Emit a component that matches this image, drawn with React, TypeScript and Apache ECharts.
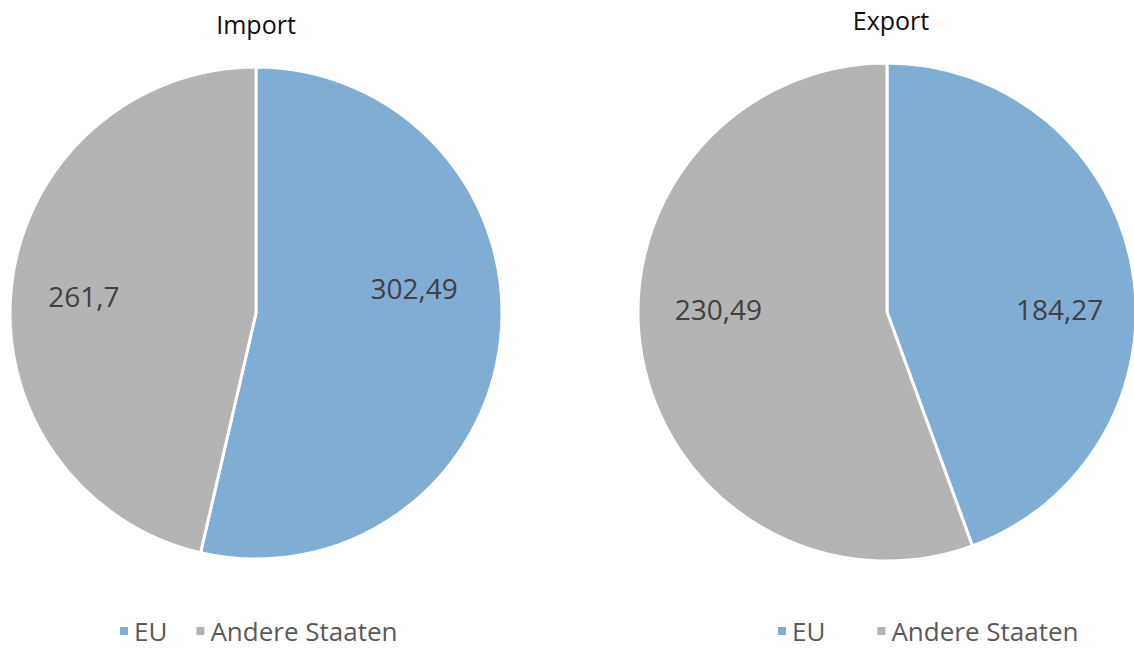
import React, { useEffect, useRef } from "react";
import * as echarts from "echarts";

const categories = ["EU", "Andere Staaten"];
const importValues = [302.49, 261.7];
const exportValues = [184.27, 230.49];
const titles = ["Import", "Export"];
const colors = ["#7FADD4", "#B4B4B4"];

// label nudges (style only) per series / slice
const labelNudge = [
  [[33, -39], [-47, -3]],
  [[47, 19], [-43, -25]],
];

const FONT = "'Open Sans', 'Noto Sans', sans-serif";

const fmt = (v: number) => String(v).replace(".", ",");

export default function App() {
  const ref = useRef<HTMLDivElement>(null);
  useEffect(() => {
    const chart = echarts.init(ref.current!, null, { renderer: "svg" });
    const mkSeries = (vals: number[], center: [number, number], r: number, idx: number) => ({
      type: "pie",
      name: titles[idx],
      center,
      radius: r,
      startAngle: 90,
      clockwise: true,
      avoidLabelOverlap: false,
      itemStyle: { borderColor: "#ffffff", borderWidth: 3 },
      label: {
        show: true,
        position: "inside",
        formatter: (p: any) => fmt(p.value),
        fontFamily: FONT,
        fontSize: 28,
        color: "#404040",
      },
      labelLayout: (p: any) => ({
        dx: labelNudge[idx][p.dataIndex][0],
        dy: labelNudge[idx][p.dataIndex][1],
      }),
      emphasis: { disabled: true },
      data: categories.map((c, i) => ({ name: c, value: vals[i] })),
    });
    const legendBase = {
      data: categories,
      top: 618,
      icon: "rect",
      itemWidth: 10,
      itemHeight: 10,
      selectedMode: false,
      padding: 0,
      textStyle: { fontFamily: FONT, fontSize: 26, color: "#595959", lineHeight: 26 },
    };
    chart.setOption({
      animation: false,
      color: colors,
      title: [
        {
          text: titles[0],
          left: 251,
          top: 6,
          textAlign: "center",
          textStyle: { fontFamily: FONT, fontSize: 25, fontWeight: "normal", color: "#0d0d0d" },
        },
        {
          text: titles[1],
          left: 886,
          top: 2,
          textAlign: "center",
          textStyle: { fontFamily: FONT, fontSize: 25, fontWeight: "normal", color: "#0d0d0d" },
        },
      ],
      legend: [
        { ...legendBase, left: 118, itemGap: 27 },
        { ...legendBase, left: 776, itemGap: 50 },
      ],
      series: [
        mkSeries(importValues, [256, 313], 246, 0),
        mkSeries(exportValues, [887, 312], 249, 1),
      ],
    });
    return () => chart.dispose();
  }, []);
  return (
    <div
      ref={ref}
      style={{ position: "absolute", left: 0, top: 0, width: 1134, height: 650, background: "#fff" }}
    />
  );
}
